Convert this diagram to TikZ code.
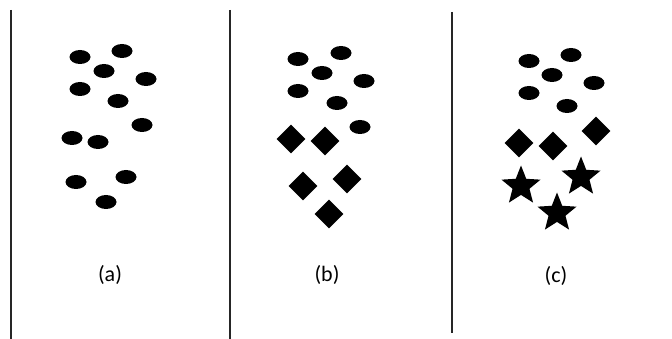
\documentclass[tikz,border=0pt]{standalone}
\usepackage{fontspec}
\setmainfont{Carlito}
\usetikzlibrary{shapes.geometric}

\begin{document}
\begin{tikzpicture}[x=1pt,y=-1pt,
  blob/.style={ellipse,fill=black,inner sep=0pt,minimum width=21pt,minimum height=14pt},
  gem/.style={diamond,fill=black,inner sep=0pt,minimum width=29pt,minimum height=29pt},
  starnode/.style={star,star points=5,star point ratio=2.3,fill=black,inner sep=0pt,minimum size=41pt},
  caption/.style={font=\fontsize{22}{26}\selectfont}]
\useasboundingbox (0,0) rectangle (672,339);
% panel separators
\draw[line width=1.6pt,black!85] (11,10) -- (11,339);
\draw[line width=1.6pt,black!85] (230,10) -- (230,339);
\draw[line width=1.6pt,black!85] (452,12) -- (452,333);
% (a)
\foreach \x/\y [count=\i] in {80/57,122/51,104/71,146/79,80/89,118/101,142/125,72/138,98/142,76/182,126/177,106/202}
  \node[blob] (a\i) at (\x,\y) {};
\node[caption] (capa) at (110,275) {(a)};
% (b)
\foreach \x/\y [count=\i] in {298/59,341/53,322/73,364/81,298/91,337/103,360/127}
  \node[blob] (b\i) at (\x,\y) {};
\foreach \x/\y [count=\i] in {291/139,325/141,303/186,347/179,329/214}
  \node[gem] (bd\i) at (\x,\y) {};
\node[caption] (capb) at (327,275) {(b)};
% (c)
\foreach \x/\y [count=\i] in {529/61,571/55,552/75,594/83,529/93,567/106}
  \node[blob] (c\i) at (\x,\y) {};
\foreach \x/\y [count=\i] in {519/143,553/146,596/131}
  \node[gem] (cd\i) at (\x,\y) {};
\foreach \x/\y [count=\i] in {521/186,581/177,557/213}
  \node[starnode] (cs\i) at (\x,\y) {};
\node[caption] (capc) at (556,276) {(c)};
\end{tikzpicture}
\end{document}
